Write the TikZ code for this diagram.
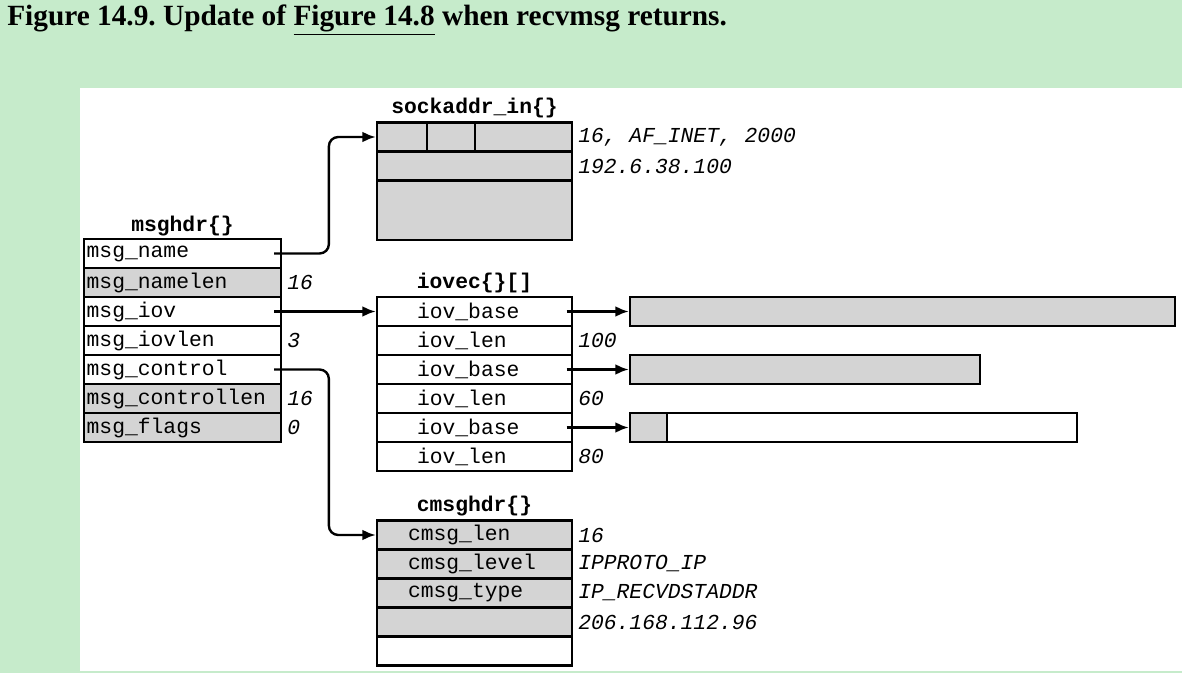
\documentclass[tikz,border=0pt]{standalone}
\usepackage{fontspec}
\setmainfont{Liberation Serif}
\setmonofont{Liberation Mono}
\usetikzlibrary{arrows.meta}
\definecolor{pagegreen}{RGB}{198,235,203}
\definecolor{cellgray}{RGB}{212,212,212}
\frenchspacing

\begin{document}
\begin{tikzpicture}[x=0.75pt,y=-0.75pt,
   cell/.style={draw,line width=1.8pt,inner sep=0pt,font=\ttfamily\fontsize{16}{16}\selectfont},
   shaded/.style={fill=cellgray},
   mrow/.style={cell,minimum height=21.75pt,text width=143.75pt,align=left,inner xsep=2pt},
   irow/.style={cell,minimum height=21.75pt,text width=86.25pt,align=left,inner xsep=30pt},
   crow/.style={cell,minimum height=21.75pt,text width=99.75pt,align=left,inner xsep=23.25pt},
   head/.style={font=\ttfamily\bfseries\fontsize{16}{16}\selectfont},
   val/.style={anchor=west,inner sep=0pt,font=\ttfamily\itshape\fontsize{16}{16}\selectfont},
   link/.style={line width=1.8pt,rounded corners=7pt,-{Latex[length=10pt,width=8pt]}}]
   \useasboundingbox (0,0) rectangle (1182,673);
   \fill[pagegreen] (0,0) rectangle (1182,673);
   \fill[white] (80,88) rectangle (1182,671);

   \node[anchor=base west,inner sep=0pt,font=\bfseries\fontsize{22}{26}\selectfont] (title) at (7,26)
      {Figure 14.9. Update of \underline{Figure 14.8} when recvmsg returns.};

   % msghdr{}
   \node[head] (mhead) at (182.5,226) {msghdr\{\}};
   \node[mrow] (mname)  at (182.5,253.5) {msg\_name};
   \node[mrow,shaded] (mnamelen) at (182.5,282.5) {msg\_namelen};
   \node[mrow] (miov)   at (182.5,311.5) {msg\_iov};
   \node[mrow] (miovlen) at (182.5,340.5) {msg\_iovlen};
   \node[mrow] (mctl)   at (182.5,369.5) {msg\_control};
   \node[mrow,shaded] (mctllen) at (182.5,398.5) {msg\_controllen};
   \node[mrow,shaded] (mflags) at (182.5,427.5) {msg\_flags};
   \node[val] (v1) at (287,282.5) {16};
   \node[val] (v2) at (287,340.5) {3};
   \node[val] (v3) at (287,398.5) {16};
   \node[val] (v4) at (287,427.5) {0};

   % sockaddr_in{}
   \node[head] (shead) at (474.5,108) {sockaddr\_in\{\}};
   \node[cell,shaded,minimum width=37.5pt,minimum height=21.75pt] (sa1) at (402,137) {};
   \node[cell,shaded,minimum width=36pt,minimum height=21.75pt] (sa2) at (451,137) {};
   \node[cell,shaded,minimum width=72.75pt,minimum height=21.75pt] (sa3) at (523.5,137) {};
   \node[cell,shaded,minimum width=146.25pt,minimum height=21.75pt] (sa4) at (474.5,166) {};
   \node[cell,shaded,minimum width=146.25pt,minimum height=44.6pt] (sa5) at (474.5,210.25) {};
   \node[val] (v5) at (578,137) {16, AF\_INET, 2000};
   \node[val] (v6) at (578,166) {192.6.38.100};

   % iovec{}[]
   \node[head] (ihead) at (474.5,283) {iovec\{\}[]};
   \node[irow] (ib1) at (474.5,311.5) {iov\_base};
   \node[irow] (il1) at (474.5,340.5) {iov\_len};
   \node[irow] (ib2) at (474.5,369.5) {iov\_base};
   \node[irow] (il2) at (474.5,398.5) {iov\_len};
   \node[irow] (ib3) at (474.5,427.5) {iov\_base};
   \node[irow] (il3) at (474.5,456.5) {iov\_len};
   \node[val] (v7) at (578,340.5) {100};
   \node[val] (v8) at (578,398.5) {60};
   \node[val] (v9) at (578,456.5) {80};

   % buffers
   \node[cell,shaded,minimum width=408.75pt,minimum height=21.75pt] (buf1) at (902.5,311.5) {};
   \node[cell,shaded,minimum width=262.5pt,minimum height=21.75pt] (buf2) at (805,369.5) {};
   \node[cell,shaded,minimum width=27.75pt,minimum height=21.75pt] (buf3) at (648.5,427.5) {};
   \node[cell,minimum width=307.5pt,minimum height=21.75pt] (buf4) at (872,427.5) {};

   % cmsghdr{}
   \node[head] (chead) at (474.5,506) {cmsghdr\{\}};
   \node[crow,shaded] (clen)  at (474.5,535) {cmsg\_len};
   \node[crow,shaded] (clev)  at (474.5,564) {cmsg\_level};
   \node[crow,shaded] (ctype) at (474.5,593) {cmsg\_type};
   \node[cell,shaded,minimum width=146.25pt,minimum height=21.75pt] (cdata) at (474.5,622) {};
   \node[cell,minimum width=146.25pt,minimum height=21.75pt] (cpad) at (474.5,651) {};
   \node[val] (v10) at (578,535) {16};
   \node[val] (v11) at (578,564) {IPPROTO\_IP};
   \node[val] (v12) at (578,593) {IP\_RECVDSTADDR};
   \node[val] (v13) at (578,622) {206.168.112.96};

   % pointers
   \coordinate (p1) at ([xshift=-6pt]mname.east);
   \coordinate (p2) at ([xshift=-6pt]miov.east);
   \coordinate (p3) at ([xshift=-6pt]mctl.east);
   \coordinate (q1) at ([xshift=-5pt]ib1.east);
   \coordinate (q2) at ([xshift=-5pt]ib2.east);
   \coordinate (q3) at ([xshift=-5pt]ib3.east);

   \draw[link] (p1) -- ++(41pt,0) |- (sa1.west);
   \draw[link] (p2) -- (ib1.west);
   \draw[link] (p3) -- ++(41pt,0) |- (clen.west);
   \draw[link] (q1) -- (buf1.west);
   \draw[link] (q2) -- (buf2.west);
   \draw[link] (q3) -- (buf3.west);
\end{tikzpicture}
\end{document}
